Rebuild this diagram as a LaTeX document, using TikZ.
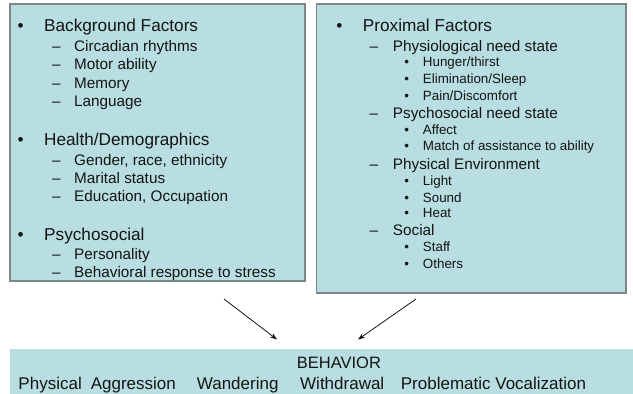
\documentclass[tikz,border=0pt]{standalone}
\usepackage{fontspec}
\setmainfont{Liberation Sans}
\usetikzlibrary{arrows.meta}
\definecolor{boxfill}{RGB}{184,222,225}
\definecolor{boxline}{RGB}{125,135,135}
\definecolor{txt}{RGB}{20,20,20}
\begin{document}
\begin{tikzpicture}[x=1pt,y=-1pt,
  panel/.style={draw=boxline,line width=1.4pt,fill=boxfill},
  band/.style={fill=boxfill,draw=none},
  lvlA/.style={anchor=base west,inner sep=0pt,text=txt,font=\fontsize{17.2}{20}\selectfont},
  lvlB/.style={anchor=base west,inner sep=0pt,text=txt,font=\fontsize{15.3}{18}\selectfont},
  lvlC/.style={anchor=base west,inner sep=0pt,text=txt,font=\fontsize{13.4}{16}\selectfont},
  markA/.style={anchor=base,inner sep=0pt,text=txt,font=\fontsize{17.2}{20}\selectfont},
  markB/.style={anchor=base,inner sep=0pt,text=txt,font=\fontsize{15.3}{18}\selectfont},
  markC/.style={anchor=base,inner sep=0pt,text=txt,font=\fontsize{13.4}{16}\selectfont},
  behhead/.style={anchor=base west,inner sep=0pt,text=txt,font=\fontsize{16.5}{19}\selectfont},
  beh/.style={anchor=base west,inner sep=0pt,text=txt,font=\fontsize{17}{20}\selectfont},
  arr/.style={-{Stealth[length=7pt,width=5pt]},line width=0.8pt,draw=txt}
]
\useasboundingbox (0,0) rectangle (633,394);
% panels
\path[panel] (10,4) rectangle (305,281);
\path[panel] (316.7,4) rectangle (626,293);
\path[band] (10,349) rectangle (633,394);

% left panel
\node[markA] (lb1) at (20.7,31.7) {•};
\node[lvlA] (lt1) at (44,31.7) {Background Factors};
\node[markB] (ld1) at (56.5,51) {–};
\node[lvlB] (ls1) at (74,51) {Circadian rhythms};
\node[markB] (ld2) at (56.5,69.5) {–};
\node[lvlB] (ls2) at (74,69.5) {Motor ability};
\node[markB] (ld3) at (56.5,88) {–};
\node[lvlB] (ls3) at (74,88) {Memory};
\node[markB] (ld4) at (56.5,106.7) {–};
\node[lvlB] (ls4) at (74,106.7) {Language};

\node[markA] (lb2) at (20.7,145.7) {•};
\node[lvlA] (lt2) at (44,145.7) {Health/Demographics};
\node[markB] (ld5) at (56.5,165) {–};
\node[lvlB] (ls5) at (74,165) {Gender, race, ethnicity};
\node[markB] (ld6) at (56.5,183.3) {–};
\node[lvlB] (ls6) at (74,183.3) {Marital status};
\node[markB] (ld7) at (56.5,201) {–};
\node[lvlB] (ls7) at (74,201) {Education, Occupation};

\node[markA] (lb3) at (20.7,240) {•};
\node[lvlA] (lt3) at (44,240) {Psychosocial};
\node[markB] (ld8) at (56.5,259.3) {–};
\node[lvlB] (ls8) at (74,259.3) {Personality};
\node[markB] (ld9) at (56.5,277.3) {–};
\node[lvlB] (ls9) at (74,277.3) {Behavioral response to stress};

% right panel
\node[markA] (rb1) at (339.3,31.7) {•};
\node[lvlA] (rt1) at (362.7,31.7) {Proximal Factors};
\node[markB] (rd1) at (374,51.7) {–};
\node[lvlB] (rs1) at (392.7,51.7) {Physiological need state};
\node[markC] (rc1) at (406.7,66) {•};
\node[lvlC] (rx1) at (422.7,66) {Hunger/thirst};
\node[markC] (rc2) at (406.7,83.3) {•};
\node[lvlC] (rx2) at (422.7,83.3) {Elimination/Sleep};
\node[markC] (rc3) at (406.7,100) {•};
\node[lvlC] (rx3) at (422.7,100) {Pain/Discomfort};
\node[markB] (rd2) at (374,118.3) {–};
\node[lvlB] (rs2) at (392.7,118.3) {Psychosocial need state};
\node[markC] (rc4) at (406.7,134) {•};
\node[lvlC] (rx4) at (422.7,134) {Affect};
\node[markC] (rc5) at (406.7,150) {•};
\node[lvlC] (rx5) at (422.7,150) {Match of assistance to ability};
\node[markB] (rd3) at (374,169) {–};
\node[lvlB] (rs3) at (392.7,169) {Physical Environment};
\node[markC] (rc6) at (406.7,185.7) {•};
\node[lvlC] (rx6) at (422.7,185.7) {Light};
\node[markC] (rc7) at (406.7,202.3) {•};
\node[lvlC] (rx7) at (422.7,202.3) {Sound};
\node[markC] (rc8) at (406.7,217.7) {•};
\node[lvlC] (rx8) at (422.7,217.7) {Heat};
\node[markB] (rd4) at (374,235.7) {–};
\node[lvlB] (rs4) at (392.7,235.7) {Social};
\node[markC] (rc9) at (406.7,251.7) {•};
\node[lvlC] (rx9) at (422.7,251.7) {Staff};
\node[markC] (rc10) at (406.7,268.3) {•};
\node[lvlC] (rx10) at (422.7,268.3) {Others};

% bottom band
\node[behhead] (bh) at (296.7,368.3) {BEHAVIOR};
\node[beh] (b1) at (18.3,389.3) {Physical\hspace{9pt}Aggression};
\node[beh] (b2) at (196.7,389.3) {Wandering};
\node[beh] (b3) at (300,389.3) {Withdrawal};
\node[beh] (b4) at (400.7,389.3) {Problematic Vocalization};

% arrows
\coordinate (a1s) at (224,299);
\coordinate (a1e) at (277,339.5);
\coordinate (a2s) at (416,299);
\coordinate (a2e) at (358,339.5);
\draw[arr] (a1s) -- (a1e);
\draw[arr] (a2s) -- (a2e);
\end{tikzpicture}
\end{document}
